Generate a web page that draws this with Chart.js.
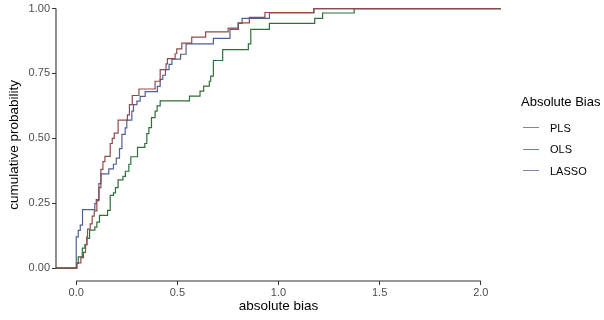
<!DOCTYPE html>
<html>
<head>
<meta charset="utf-8">
<script src="https://cdn.jsdelivr.net/npm/chart.js@4/dist/chart.umd.min.js"></script>
<style>
    html, body { margin: 0; padding: 0; background: #fff; }
    #wrap { position: relative; width: 604px; height: 320px; font-family: "Liberation Sans", Arial, sans-serif; }
    #legend { position: absolute; left: 521px; top: 93px; color: #000; }
    #legend .title { font-size: 13px; line-height: 18px; margin-bottom: 6px; }
    #legend .item { height: 21.5px; display: flex; align-items: center; font-size: 11px; }
    #legend .key { width: 16px; height: 0; border-top: 1.5px solid; margin: 0 11px 0 2px; opacity: 0.75; }
</style>
</head>
<body>
<div id="wrap">
    <canvas id="ecdfChart" width="604" height="320"></canvas>
    <div id="legend"></div>
</div>
<script>
// step positions (absolute bias) and the cumulative probability reached there
const plsBias = [0.003, 0.023, 0.036, 0.046, 0.052, 0.056, 0.069, 0.079, 0.089, 0.102, 0.112, 0.122, 0.132, 0.142,
    0.168, 0.178, 0.188, 0.207, 0.253, 0.263, 0.277, 0.31, 0.39, 0.415, 0.444, 0.451, 0.489, 0.497, 0.522, 0.571,
    0.64, 0.751, 0.80, 0.856, 0.933, 1.175];
const plsProb = [0.02, 0.04, 0.06, 0.09, 0.12, 0.15, 0.17, 0.20, 0.22, 0.26, 0.31, 0.38, 0.41, 0.43,
    0.48, 0.50, 0.52, 0.57, 0.59, 0.63, 0.665, 0.69, 0.72, 0.765, 0.787, 0.807, 0.826, 0.845, 0.867, 0.89,
    0.91, 0.925, 0.945, 0.966, 0.985, 1.0];

const olsBias = [0.003, 0.01, 0.03, 0.043, 0.053, 0.066, 0.092, 0.102, 0.115, 0.155, 0.168, 0.184, 0.194, 0.207,
    0.231, 0.243, 0.26, 0.27, 0.303, 0.339, 0.349, 0.359, 0.372, 0.39, 0.40, 0.415, 0.56, 0.612, 0.63, 0.658,
    0.665, 0.678, 0.724, 0.851, 0.863, 0.955, 1.179, 1.218, 1.374];
const olsProb = [0.018, 0.043, 0.077, 0.09, 0.114, 0.146, 0.158, 0.177, 0.203, 0.222, 0.28, 0.29, 0.31, 0.34,
    0.353, 0.373, 0.40, 0.429, 0.465, 0.48, 0.518, 0.541, 0.58, 0.605, 0.625, 0.644, 0.663, 0.682, 0.701, 0.72,
    0.74, 0.80, 0.842, 0.864, 0.92, 0.943, 0.962, 0.983, 1.0];

const lassoBias = [0.0, 0.01, 0.02, 0.031, 0.092, 0.099, 0.112, 0.122, 0.161, 0.184, 0.198, 0.214, 0.226, 0.242,
    0.25, 0.275, 0.283, 0.30, 0.316, 0.341, 0.401, 0.415, 0.428, 0.441, 0.459, 0.473, 0.516, 0.543, 0.678, 0.76,
    0.802, 0.82, 0.955, 1.175];
const lassoProb = [0.12, 0.145, 0.165, 0.225, 0.248, 0.264, 0.325, 0.363, 0.382, 0.40, 0.424, 0.46, 0.515, 0.54,
    0.57, 0.605, 0.63, 0.643, 0.662, 0.68, 0.70, 0.727, 0.743, 0.765, 0.785, 0.805, 0.824, 0.864, 0.885, 0.92,
    0.943, 0.962, 0.983, 1.0];

const seriesNames = ['PLS', 'OLS', 'LASSO'];
const seriesColors = ['#8F4A4A', '#2F6F3A', '#4F5F93'];

const xTicks = [0, 0.5, 1.0, 1.5, 2.0];
const yTicks = [0, 0.25, 0.5, 0.75, 1.0];
const xMin = -0.1, xMax = 2.1;

function toSteps(bias, prob) {
    const pts = [{ x: xMin, y: 0 }];
    bias.forEach((b, i) => pts.push({ x: b, y: prob[i] }));
    pts.push({ x: xMax, y: prob[prob.length - 1] });
    return pts;
}

const seriesData = [toSteps(plsBias, plsProb), toSteps(olsBias, olsProb), toSteps(lassoBias, lassoProb)];

// axis lines only span the tick range, like the printed figure
const axisLines = {
    id: 'axisLines',
    afterDraw(chart) {
        const { ctx, chartArea, scales } = chart;
        ctx.save();
        ctx.strokeStyle = '#333';
        ctx.lineWidth = 1.1;
        ctx.beginPath();
        ctx.moveTo(chartArea.left, scales.y.getPixelForValue(0));
        ctx.lineTo(chartArea.left, scales.y.getPixelForValue(1));
        ctx.moveTo(scales.x.getPixelForValue(0), chartArea.bottom);
        ctx.lineTo(scales.x.getPixelForValue(2), chartArea.bottom);
        ctx.stroke();
        ctx.restore();
    }
};

const tickFont = { family: '"Liberation Sans", Arial, sans-serif', size: 11 };
const titleFont = { family: '"Liberation Sans", Arial, sans-serif', size: 13.5 };

new Chart(document.getElementById('ecdfChart'), {
    type: 'line',
    data: {
        datasets: seriesNames.map((name, i) => ({
            label: name,
            data: seriesData[i],
            borderColor: seriesColors[i],
            borderWidth: 1.2,
            stepped: 'before',
            pointRadius: 0,
            fill: false,
            clip: 4,
        })),
    },
    options: {
        responsive: false,
        animation: false,
        layout: { padding: { top: 7, right: 103, left: 0, bottom: 0 } },
        plugins: {
            legend: { display: false },
            tooltip: { enabled: false },
        },
        scales: {
            x: {
                type: 'linear',
                min: xMin,
                max: xMax,
                afterBuildTicks: s => { s.ticks = xTicks.map(v => ({ value: v })); },
                afterFit: s => { s.height = 39; },
                grid: { drawOnChartArea: false, tickLength: 4, color: '#333' },
                border: { display: false },
                ticks: { color: '#4D4D4D', font: tickFont, padding: 1, maxRotation: 0, callback: v => v.toFixed(1) },
                title: { display: true, text: 'absolute bias', color: '#000', font: titleFont, padding: { top: 0, bottom: 6 } },
            },
            y: {
                type: 'linear',
                min: -0.05,
                max: 1.0,
                afterBuildTicks: s => { s.ticks = yTicks.map(v => ({ value: v })); },
                afterFit: s => { s.width = 56; },
                grid: { drawOnChartArea: false, tickLength: 4, color: '#333' },
                border: { display: false },
                ticks: { color: '#4D4D4D', font: tickFont, padding: 2, callback: v => v.toFixed(2) },
                title: { display: true, text: 'cumulative probability', color: '#000', font: titleFont, padding: { top: 6, bottom: 0 } },
            },
        },
    },
    plugins: [axisLines],
});

// legend on the right
const legend = document.getElementById('legend');
legend.innerHTML = '<div class="title">Absolute Bias</div>' + seriesNames.map((name, i) =>
    `<div class="item"><span class="key" style="border-color:${seriesColors[i]}"></span>${name}</div>`).join('');
</script>
</body>
</html>
